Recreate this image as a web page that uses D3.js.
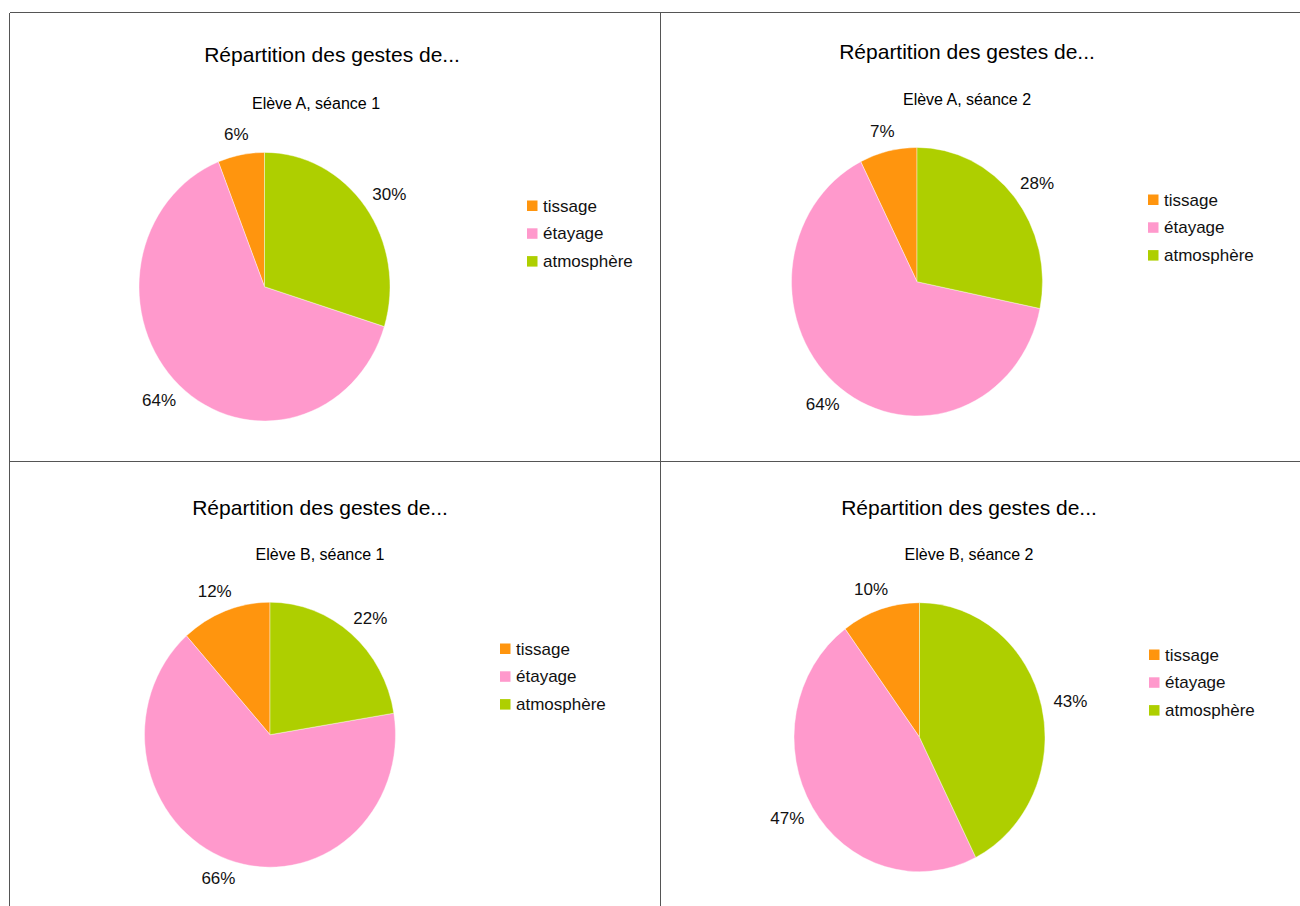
<!DOCTYPE html>
<html lang="fr">
<head>
<meta charset="utf-8">
<title>Répartition des gestes de...</title>
<script src="https://cdn.jsdelivr.net/npm/d3@7"></script>
<style>
  body { margin: 0; background: #fff; }
  svg { display: block; font-family: "Liberation Sans", Arial, sans-serif; }
  .frame { stroke: #555; stroke-width: 1; shape-rendering: crispEdges; }
</style>
</head>
<body>
<script>
// data
var categories = ["tissage", "étayage", "atmosphère"];
var mainTitle = "Répartition des gestes de...";
var subtitles = ["Elève A, séance 1", "Elève A, séance 2", "Elève B, séance 1", "Elève B, séance 2"];
var tissage = [6.0, 7.4, 11.6, 10.1];
var etayage = [64.2, 64.4, 66.0, 47.3];
var atmosphere = [29.8, 28.2, 22.4, 42.6];
var colors = ["#ff950e", "#ff99cc", "#aecf00"];

// layout of each panel (pie centre, radii, titles, legend)
var layout = [
  {cx: 264.5, cy: 286.7, rx: 125.5, ry: 134.3, tx: 332, ty: 54, sx: 316, sy: 103, lx: 527, ly: 206},
  {cx: 917,   cy: 281.7, rx: 125.5, ry: 134.3, tx: 967, ty: 51, sx: 967, sy: 99,  lx: 1148, ly: 200},
  {cx: 270,   cy: 734.7, rx: 125.5, ry: 132.5, tx: 320, ty: 507, sx: 320, sy: 554, lx: 500, ly: 649},
  {cx: 919.5, cy: 737.2, rx: 125.5, ry: 134.5, tx: 969, ty: 507, sx: 969, sy: 554, lx: 1149, ly: 655}
];

var w = 1300, h = 906;
var svg = d3.select("body").append("svg").attr("width", w).attr("height", h);

// frame lines
svg.append("line").attr("class", "frame").attr("x1", 9.5).attr("y1", 12.5).attr("x2", w).attr("y2", 12.5);
svg.append("line").attr("class", "frame").attr("x1", 9.5).attr("y1", 12.5).attr("x2", 9.5).attr("y2", h);
svg.append("line").attr("class", "frame").attr("x1", 660.5).attr("y1", 12.5).attr("x2", 660.5).attr("y2", h);
svg.append("line").attr("class", "frame").attr("x1", 9.5).attr("y1", 461.5).attr("x2", w).attr("y2", 461.5);

var color = d3.scaleOrdinal().domain(categories).range(colors);
var pie = d3.pie().sort(null).value(function(d){ return d.value; })
  .startAngle(0).endAngle(-2 * Math.PI);

subtitles.forEach(function(sub, i) {
  var L = layout[i];
  var data = [
    {key: categories[0], value: tissage[i]},
    {key: categories[1], value: etayage[i]},
    {key: categories[2], value: atmosphere[i]}
  ];
  var g = svg.append("g");

  g.append("text")
    .attr("x", L.tx).attr("y", L.ty)
    .attr("text-anchor", "middle").attr("dominant-baseline", "central")
    .style("font-size", "21px").attr("fill", "#000")
    .text(mainTitle);
  g.append("text")
    .attr("x", L.sx).attr("y", L.sy)
    .attr("text-anchor", "middle").attr("dominant-baseline", "central")
    .style("font-size", "16px").attr("fill", "#000")
    .text(sub);

  var arc = d3.arc().innerRadius(0).outerRadius(L.rx);
  var arcs = pie(data);
  g.append("g")
    .attr("transform", "translate(" + L.cx + "," + L.cy + ") scale(1," + (L.ry / L.rx) + ")")
    .selectAll("path")
    .data(arcs)
    .enter().append("path")
    .attr("d", arc)
    .attr("fill", function(d){ return color(d.data.key); })
    .attr("stroke", "#fff").attr("stroke-width", 0.4);

  // percentage labels outside the pie
  arcs.forEach(function(a) {
    var t = (a.startAngle + a.endAngle) / 2;
    var s = Math.sin(t), c = Math.cos(t);
    var txt = g.append("text")
      .attr("text-anchor", "middle").attr("dominant-baseline", "central")
      .style("font-size", "17px").attr("fill", "#111")
      .text(Math.round(a.data.value) + "%");
    var tw = txt.node().getComputedTextLength();
    var k = 1.1;
    txt.attr("x", L.cx + s * (L.rx * k + tw / 2))
       .attr("y", L.cy - c * (L.ry * k + 7));
  });

  // legend
  var leg = g.append("g").attr("transform", "translate(" + L.lx + "," + L.ly + ")");
  categories.forEach(function(cat, j) {
    leg.append("rect")
      .attr("x", 0).attr("y", j * 27.8 - 5.5)
      .attr("width", 10.5).attr("height", 10.5)
      .attr("fill", color(cat));
    leg.append("text")
      .attr("x", 16).attr("y", j * 27.8)
      .attr("dominant-baseline", "central")
      .style("font-size", "17px").attr("fill", "#111")
      .text(cat);
  });
});
</script>
</body>
</html>
